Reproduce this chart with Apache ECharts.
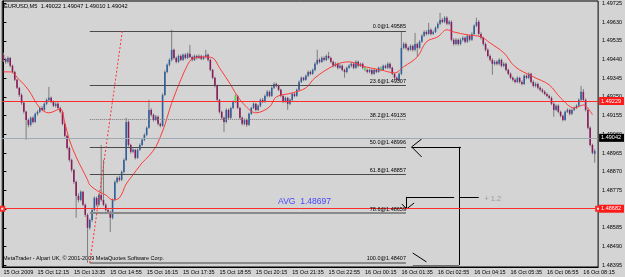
<!DOCTYPE html>
<html>
<head>
<meta charset="utf-8">
<script src="https://cdn.jsdelivr.net/npm/echarts@6/dist/echarts.min.js"></script>
<style>
  html, body { margin: 0; padding: 0; background: #d4d4d4; }
  #chart { width: 625px; height: 277px; }
</style>
</head>
<body>
<div id="chart"></div>
<script>
// EURUSD M5, 15 Oct 2009 11:00 -> 16 Oct 08:40
// prices are kept in points above 1.48000 (1585 -> 1.49585)
const BASE = 1.48;

const opens = [
  1464,1438,1428,1448,1408,1377,1337,1296,1260,1220,
  1174,1133,1108,1144,1123,1164,1174,1194,1184,1215,
  1235,1245,1225,1205,1215,1194,1174,1113,1052,991,
  930,879,818,747,727,768,702,651,585,625,
  676,737,702,752,727,702,676,666,636,727,
  818,839,829,869,930,1123,1006,971,981,940,
  981,1006,1032,1057,1093,1184,1159,1133,1149,1113,
  1103,1260,1377,1413,1438,1489,1448,1428,1458,1438,
  1464,1448,1469,1453,1438,1458,1448,1458,1443,1453,
  1464,1438,1387,1347,1306,1235,1174,1144,1123,1184,
  1144,1194,1225,1255,1194,1144,1113,1133,1108,1164,
  1194,1215,1184,1205,1235,1225,1255,1276,1255,1296,
  1316,1306,1286,1255,1225,1245,1215,1235,1265,1255,
  1286,1326,1347,1337,1357,1377,1367,1387,1418,1438,
  1428,1448,1438,1458,1448,1428,1408,1418,1398,1408,
  1387,1377,1398,1408,1418,1398,1428,1408,1418,1398,
  1387,1377,1387,1367,1387,1377,1398,1387,1408,1398,
  1418,1398,1367,1347,1337,1367,1499,1519,1499,1489,
  1509,1489,1519,1499,1530,1560,1580,1570,1591,1570,
  1580,1601,1621,1641,1631,1652,1621,1631,1540,1519,
  1540,1519,1540,1550,1530,1560,1540,1570,1611,1631,
  1570,1550,1519,1489,1458,1438,1418,1428,1418,1438,
  1408,1418,1387,1367,1347,1337,1326,1347,1326,1316,
  1357,1347,1367,1326,1306,1316,1296,1286,1276,1265,
  1255,1245,1215,1184,1205,1174,1154,1133,1174,1184,
  1164,1184,1194,1205,1235,1276,1235,1184,1093,1006,
  960
];
const closes = [
  1438,1428,1448,1408,1377,1337,1296,1260,1220,1174,
  1133,1108,1144,1123,1164,1174,1194,1184,1215,1235,
  1245,1225,1205,1215,1194,1174,1113,1052,991,930,
  879,818,747,727,768,702,651,585,625,676,
  737,702,752,727,702,676,666,636,727,818,
  839,829,869,930,1123,1006,971,981,940,981,
  1006,1032,1057,1093,1184,1159,1133,1149,1113,1103,
  1260,1377,1413,1438,1489,1448,1428,1458,1438,1464,
  1448,1469,1453,1438,1458,1448,1458,1443,1453,1464,
  1438,1387,1347,1306,1235,1174,1144,1123,1184,1144,
  1194,1225,1255,1194,1144,1113,1133,1108,1164,1194,
  1215,1184,1205,1235,1225,1255,1276,1255,1296,1316,
  1306,1286,1255,1225,1245,1215,1235,1265,1255,1286,
  1326,1347,1337,1357,1377,1367,1387,1418,1438,1428,
  1448,1438,1458,1448,1428,1408,1418,1398,1408,1387,
  1377,1398,1408,1418,1398,1428,1408,1418,1398,1387,
  1377,1387,1367,1387,1377,1398,1387,1408,1398,1418,
  1398,1367,1347,1337,1367,1499,1519,1499,1489,1509,
  1489,1519,1499,1530,1560,1580,1570,1591,1570,1580,
  1601,1621,1641,1631,1652,1621,1631,1540,1519,1540,
  1519,1540,1550,1530,1560,1540,1570,1611,1631,1570,
  1550,1519,1489,1458,1438,1418,1428,1418,1438,1408,
  1418,1387,1367,1347,1337,1326,1347,1326,1316,1357,
  1347,1367,1326,1306,1316,1296,1286,1276,1265,1255,
  1245,1215,1184,1205,1174,1154,1133,1174,1184,1164,
  1184,1194,1205,1235,1276,1235,1184,1093,1006,966,
  975
];
const lows = [
  1428,1418,1420,1400,1370,1330,1290,1250,1210,1165,
  1032,1095,1100,1115,1118,1155,1168,1178,1180,1208,
  1228,1218,1198,1196,1188,1166,1105,1045,982,920,
  868,808,636,715,720,695,640,407,575,615,
  668,695,698,718,695,668,658,564,628,720,
  810,820,822,862,924,998,962,964,932,935,
  975,1000,1025,1050,1088,1150,1125,1128,1105,1095,
  1098,1255,1370,1405,1430,1440,1420,1422,1432,1432,
  1440,1442,1446,1430,1432,1440,1442,1436,1438,1446,
  1430,1380,1340,1298,1226,1165,1135,1072,1115,1136,
  1138,1188,1218,1188,1136,1105,1106,1098,1102,1158,
  1188,1176,1178,1198,1218,1220,1248,1248,1250,1290,
  1298,1278,1248,1218,1220,1184,1208,1228,1248,1250,
  1280,1320,1330,1332,1350,1360,1362,1380,1412,1420,
  1422,1430,1432,1440,1420,1400,1402,1390,1392,1380,
  1347,1370,1392,1400,1390,1392,1400,1402,1390,1380,
  1370,1370,1360,1362,1370,1372,1380,1382,1392,1392,
  1390,1360,1340,1330,1330,1360,1492,1490,1480,1484,
  1480,1482,1453,1494,1524,1554,1562,1564,1562,1564,
  1574,1594,1614,1624,1624,1614,1614,1532,1510,1512,
  1510,1512,1532,1522,1524,1532,1534,1564,1604,1562,
  1542,1510,1480,1450,1430,1362,1410,1410,1410,1400,
  1400,1380,1360,1340,1328,1318,1320,1318,1308,1310,
  1340,1340,1318,1298,1298,1288,1278,1268,1258,1248,
  1238,1208,1149,1178,1166,1146,1125,1128,1168,1156,
  1158,1178,1188,1198,1228,1228,1176,1085,998,958,
  915
];
const highs = [
  1474,1449,1456,1452,1414,1382,1342,1300,1268,1226,
  1180,1140,1150,1152,1170,1182,1200,1204,1222,1242,
  1301,1252,1232,1222,1224,1200,1180,1118,1058,998,
  936,885,825,760,775,772,708,658,632,684,
  745,744,760,1006,930,710,684,672,734,826,
  846,850,876,938,1144,1130,1012,990,986,988,
  1014,1040,1065,1100,1235,1192,1165,1158,1155,1120,
  1268,1385,1420,1446,1591,1495,1455,1465,1466,1470,
  1472,1476,1514,1460,1465,1464,1466,1464,1460,1489,
  1470,1444,1392,1352,1312,1240,1180,1150,1192,1190,
  1200,1232,1262,1260,1200,1150,1140,1140,1170,1200,
  1222,1220,1212,1242,1244,1262,1284,1282,1304,1324,
  1322,1312,1292,1262,1252,1250,1242,1272,1272,1292,
  1334,1354,1352,1364,1384,1384,1394,1426,1489,1446,
  1456,1456,1466,1479,1454,1434,1426,1424,1416,1414,
  1394,1404,1416,1426,1424,1436,1434,1424,1424,1404,
  1394,1394,1392,1394,1392,1404,1404,1414,1414,1426,
  1424,1404,1372,1354,1374,1580,1528,1526,1506,1516,
  1516,1575,1526,1538,1568,1588,1588,1626,1598,1588,
  1608,1630,1677,1650,1660,1660,1640,1638,1548,1548,
  1546,1548,1558,1556,1568,1566,1578,1618,1652,1640,
  1578,1556,1526,1496,1466,1446,1436,1436,1446,1444,
  1426,1424,1394,1374,1354,1344,1354,1352,1334,1364,
  1364,1374,1372,1334,1324,1322,1304,1294,1284,1272,
  1262,1252,1222,1212,1212,1180,1160,1180,1192,1190,
  1192,1200,1212,1242,1306,1290,1242,1190,1100,1012,
  985
];
// bars painted lime in the terminal
const greenBars = [102, 159, 166];

// red moving average, read at these bars
const maBars = [0,3,7,11,16,20,25,27,29,32,37,38,42,45,48,51,54,56,61,64,
  67,69,71,73,75,78,81,83,88,92,95,100,102,106,111,117,120,127,133,137,
  146,152,159,166,172,176,182,186,191,195,198,204,210,214,220,225,233,240,245,251,
  255,259];
const maPts = [1377,1377,1337,1286,1194,1169,1189,1118,1032,945,829,803,768,752,727,737,808,839,915,950,
  996,1047,1108,1184,1250,1337,1413,1443,1453,1448,1398,1311,1270,1209,1169,1199,1250,1270,1296,1347,
  1413,1428,1403,1387,1372,1403,1453,1530,1555,1591,1580,1565,1555,1524,1474,1403,1352,1311,1245,1194,
  1209,1159];

// fibonacci retracement
const fibLevels = ['0.0', '23.6', '38.2', '50.0', '61.8', '78.6', '100.0'];
const fibPrices = [1.49585, 1.49307, 1.49135, 1.48996, 1.48857, 1.48659, 1.48407];
const fibFrom = 38, fibTo = 177;
const fibTrend = [[38, 1.48407], [52.3, 1.49585]];

// horizontal lines on the chart
const avgText = 'AVG  1.48697';
const avgLine = 1.48682;
const alertPrice = 1.49229;
const bidPrice = 1.49042;

// hand drawn trend lines [bar, price]
const drawnLines = [
  [[179.5, 1.48996], [183.9, 1.49036]],
  [[179.5, 1.48996], [183.9, 1.48945]],
  [[179.5, 1.48996], [201.2, 1.48996]],
  [[200.4, 1.48996], [200.4, 1.48396]],
  [[177.3, 1.48742], [198.2, 1.48742]],
  [[177.3, 1.48742], [177.3, 1.48683]],
  [[175.2, 1.48706], [177.3, 1.48681]],
  [[177.3, 1.48681], [180.6, 1.48711]],
  [[200.4, 1.48742], [209.0, 1.48742]],
  [[180.0, 1.48457], [186.0, 1.48412]]
];
const greyBase = [[180.0, 1.48394], [200.4, 1.48394]];

const yTicks = [1.49725, 1.49630, 1.49535, 1.49440, 1.49345, 1.49250, 1.49155, 1.49060,
  1.48965, 1.48870, 1.48775, 1.48680, 1.48585, 1.48490, 1.48395];

const header = 'EURUSD,M5  1.49022 1.49047 1.49010 1.49042';
const copyright = 'MetaTrader - Alpari UK, \u00a9 2001-2009 MetaQuotes Software Corp.';

const toPrice = p => +(BASE + p / 100000).toFixed(5);
const pad = n => (n < 10 ? '0' : '') + n;

const barCount = 262;
const categories = [];
const start = new Date(2009, 9, 15, 11, 0);
for (let i = 0; i < barCount; i++) {
  const t = new Date(start.getTime() + i * 300000);
  categories.push(t.getDate() + ' Oct ' + pad(t.getHours()) + ':' + pad(t.getMinutes()));
}
const showTime = i => i === 0 || (i >= 15 && (i - 15) % 16 === 0);

const candles = opens.map((o, i) =>
  [i, toPrice(o), toPrice(closes[i]), toPrice(lows[i]), toPrice(highs[i])]);

function renderCandle(params, api) {
  const i = api.value(0);
  const o = api.value(1), c = api.value(2);
  const pO = api.coord([i, o]), pC = api.coord([i, c]);
  const pL = api.coord([i, api.value(3)]), pH = api.coord([i, api.value(4)]);
  const w = api.size([1, 0])[0] * 0.7;
  let fill = c >= o ? '#2e5f9e' : '#8a1b5b';
  if (greenBars.includes(i)) fill = '#4ee04e';
  const top = Math.min(pO[1], pC[1]);
  const h = Math.max(Math.abs(pO[1] - pC[1]), 1);
  return {
    type: 'group',
    children: [
      { type: 'line', shape: { x1: pL[0], y1: pL[1], x2: pH[0], y2: pH[1] },
        style: { stroke: '#7d7d7d', lineWidth: 1 } },
      { type: 'rect', shape: { x: pO[0] - w / 2, y: top, width: w, height: h },
        style: { fill: fill } }
    ]
  };
}

const FONT = 'Liberation Sans';
const small = { fontFamily: FONT, fontSize: 5.5, color: '#000' };
const xFirst = -0.5, xLast = barCount - 0.5;

const markData = [];
fibPrices.forEach((p, k) => {
  markData.push([
    { coord: [fibFrom, p],
      lineStyle: { color: k === 2 ? '#7a7a7a' : (k >= 5 ? '#8a8a8a' : '#4a4a4a'),
                   width: k >= 5 ? 2 : 1, type: k === 2 ? 'dotted' : 'solid' },
      label: { show: true, position: 'insideEndTop', distance: [0, 1],
               formatter: fibLevels[k] + '@' + p.toFixed(5), ...small } },
    { coord: [fibTo, p] }
  ]);
});
markData.push([
  { coord: fibTrend[0], lineStyle: { color: '#ff3030', width: 1, type: [2, 2] }, label: { show: false } },
  { coord: fibTrend[1] }
]);
drawnLines.forEach(seg => {
  markData.push([
    { coord: seg[0], lineStyle: { color: '#000', width: 1, type: 'solid' }, label: { show: false } },
    { coord: seg[1] }
  ]);
});
markData.push([
  { coord: greyBase[0], lineStyle: { color: '#6e6e6e', width: 2, type: 'solid' }, label: { show: false } },
  { coord: greyBase[1] }
]);
const boxLabel = (text, bg) => ({
  show: true, position: 'end', distance: 1, formatter: text,
  backgroundColor: bg, color: '#fff', fontFamily: FONT, fontSize: 5.5,
  lineHeight: 7, padding: [1, 3, 0, 2]
});
function fullLine(price, color, bg, ends) {
  return [
    { coord: [xFirst, price], symbol: ends ? 'emptyRect' : 'none', symbolSize: 4,
      lineStyle: { color: color, width: 1, type: 'solid' },
      label: boxLabel(price.toFixed(5), bg) },
    { coord: [xLast, price], symbol: ends ? 'emptyRect' : 'none', symbolSize: 4 }
  ];
}
markData.push(fullLine(bidPrice, '#9fa9b3', '#000', false));
markData.push(fullLine(alertPrice, '#ff2a2a', '#ff1a1a', false));
markData.push(fullLine(avgLine, '#ff2a2a', '#ff1a1a', true));

const chart = echarts.init(document.getElementById('chart'));
chart.setOption({
  animation: false,
  backgroundColor: '#d4d4d4',
  grid: { left: 2.25, right: 18, top: 1, bottom: 10, show: true,
          borderColor: '#000', borderWidth: 1, backgroundColor: 'transparent' },
  xAxis: [
    {
      type: 'category', data: categories, boundaryGap: true,
      axisLine: { lineStyle: { color: '#000', width: 1 } },
      axisTick: { interval: showTime, alignWithLabel: true, length: 3, lineStyle: { color: '#000' } },
      axisLabel: { interval: showTime, align: 'left', margin: 2, ...small,
                   formatter: (v, i) => (i === 0 ? '15 Oct 2009' : v) },
      splitLine: { show: false }
    },
    { type: 'value', min: xFirst, max: xLast, show: false }
  ],
  yAxis: {
    type: 'value', position: 'right', min: 1.48386, max: 1.49737, scale: true,
    axisLine: { show: true, lineStyle: { color: '#000', width: 1 } },
    axisTick: { show: true, length: 3, customValues: yTicks, lineStyle: { color: '#000' } },
    axisLabel: { customValues: yTicks, margin: 4, ...small, formatter: v => v.toFixed(5) },
    splitLine: { show: false }
  },
  series: [
    {
      type: 'custom', name: 'EURUSD', xAxisIndex: 0, z: 2,
      data: candles, encode: { x: 0, y: [1, 2, 3, 4] },
      renderItem: renderCandle
    },
    {
      type: 'line', name: 'MA', xAxisIndex: 1, z: 3,
      data: maBars.map((b, k) => [b, toPrice(maPts[k])]),
      smooth: 0.35, symbol: 'none',
      lineStyle: { color: '#ff3a3a', width: 1 },
      markLine: { silent: true, symbol: 'none', animation: false, data: markData },
      markPoint: {
        silent: true,
        data: [
          { coord: [120.8, 1.48716], symbol: 'circle', symbolSize: 0,
            label: { show: true, position: 'right', distance: 0, formatter: avgText,
                     color: '#4646ff', fontFamily: FONT, fontSize: 8.5 } },
          { coord: [211.5, 1.48730], symbol: 'circle', symbolSize: 0,
            label: { show: true, position: 'right', distance: 0, formatter: '+ 1.2',
                     color: '#9a9a9a', fontFamily: FONT, fontSize: 7.5 } }
        ]
      }
    }
  ],
  graphic: [
    { type: 'text', left: 4, top: 3, style: { text: header, font: '5.7px "Liberation Sans"', fill: '#000' } },
    { type: 'text', left: 3, top: 255, style: { text: copyright, font: '5.5px "Liberation Sans"', fill: '#000' } }
  ]
});
</script>
</body>
</html>
